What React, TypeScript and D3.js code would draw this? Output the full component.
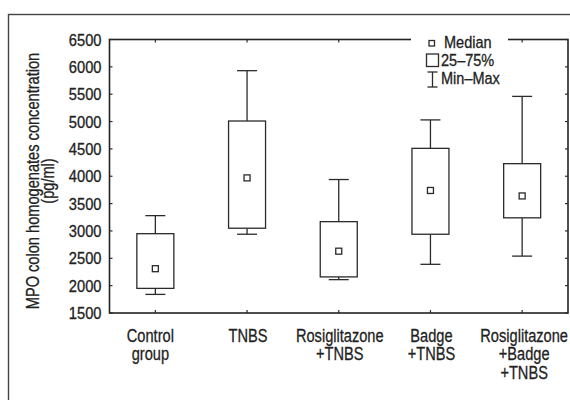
import React from "react";
import * as d3 from "d3";

const categories = [
  ["Control", "group"],
  ["TNBS"],
  ["Rosiglitazone", "+TNBS"],
  ["Badge", "+TNBS"],
  ["Rosiglitazone", "+Badge", "+TNBS"],
];
const minVals = [1840, 2940, 2110, 2390, 2540];
const q1Vals = [1950, 3050, 2160, 2940, 3240];
const medianVals = [2310, 3970, 2630, 3740, 3640];
const q3Vals = [2950, 5010, 3170, 4510, 4230];
const maxVals = [3280, 5930, 3940, 5030, 5460];
const yTicks = [1500, 2000, 2500, 3000, 3500, 4000, 4500, 5000, 5500, 6000, 6500];

const FONT = "'Liberation Sans', Arial, sans-serif";

function T({ x, y, size, k, anchor = "start", rotate = 0, children }: any) {
  return (
    <text
      transform={`translate(${x},${y}) rotate(${rotate}) scale(${k},1)`}
      fontSize={size}
      textAnchor={anchor}
      fill="#222"
      stroke="#222"
      strokeWidth={0.3}
      fontFamily={FONT}
    >
      {children}
    </text>
  );
}

export default function App() {
  const W = 570, H = 400;
  const left = 109.5, right = 568, top = 39.5, bottom = 313;
  const x = d3.scaleBand<number>().domain(d3.range(categories.length)).range([left, right]);
  const y = d3.scaleLinear().domain([1500, 6500]).range([bottom, top]);
  const boxW = 37, capW = 20, tk = 3;
  const stroke = "#2b2b2b";

  return (
    <svg width={W} height={H} style={{ position: "absolute", left: 0, top: 0, background: "#fff" }}>
      <rect x={0} y={0} width={W} height={H} fill="#fff" />
      {/* outer frame */}
      <rect x={8.5} y={14.5} width={600} height={450} fill="none" stroke="#444" strokeWidth={1.4} />
      {/* plot border */}
      <rect x={left} y={top} width={right - left} height={bottom - top} fill="none" stroke="#222" strokeWidth={1.6} />
      {/* y ticks both sides */}
      {yTicks.map((t) => (
        <g key={t}>
          <line x1={left} x2={left + tk} y1={y(t)} y2={y(t)} stroke={stroke} strokeWidth={1.2} />
          <line x1={right} x2={right - tk} y1={y(t)} y2={y(t)} stroke={stroke} strokeWidth={1.2} />
          <T x={101.5} y={y(t) + 6} size={16.5} k={0.89} anchor="end">{t}</T>
        </g>
      ))}
      {/* x ticks top and bottom */}
      {categories.map((_, i) => {
        const cx = x(i)! + x.bandwidth() / 2;
        return (
          <g key={i}>
            <line x1={cx} x2={cx} y1={top} y2={top + tk} stroke={stroke} strokeWidth={1.2} />
            <line x1={cx} x2={cx} y1={bottom} y2={bottom - tk} stroke={stroke} strokeWidth={1.2} />
          </g>
        );
      })}
      {/* boxes */}
      {categories.map((_, i) => {
        const cx = x(i)! + x.bandwidth() / 2;
        return (
          <g key={"b" + i} stroke={stroke} strokeWidth={1.3} fill="none">
            <line x1={cx} x2={cx} y1={y(maxVals[i])} y2={y(q3Vals[i])} />
            <line x1={cx} x2={cx} y1={y(q1Vals[i])} y2={y(minVals[i])} />
            <line x1={cx - capW / 2} x2={cx + capW / 2} y1={y(maxVals[i])} y2={y(maxVals[i])} />
            <line x1={cx - capW / 2} x2={cx + capW / 2} y1={y(minVals[i])} y2={y(minVals[i])} />
            <rect x={cx - boxW / 2} y={y(q3Vals[i])} width={boxW} height={y(q1Vals[i]) - y(q3Vals[i])} fill="#fff" />
            <rect x={cx - 3} y={y(medianVals[i]) - 3} width={6} height={6} fill="#fff" />
          </g>
        );
      })}
      {/* category labels */}
      {categories.map((lines, i) => {
        const cx = x(i)! + x.bandwidth() / 2 + (i === 0 ? -5 : i === 4 ? 2 : 1);
        return (
          <g key={"c" + i}>
            {lines.map((l, j) => (
              <T key={j} x={cx} y={341.5 + j * 18.8} size={18.5} k={0.79} anchor="middle">{l}</T>
            ))}
          </g>
        );
      })}
      {/* y axis title */}
      <T x={38.5} y={181} size={18.5} k={0.79} anchor="middle" rotate={-90}>
        MPO colon homogenates concentration
      </T>
      <T x={53.5} y={181} size={18.5} k={0.79} anchor="middle" rotate={-90}>
        (pg/ml)
      </T>
      {/* legend */}
      <rect x={411} y={33} width={97} height={14} fill="#fff" />
      <g stroke={stroke} strokeWidth={1.3} fill="none">
        <rect x={429} y={40.5} width={5.5} height={5.5} />
        <rect x={426.5} y={54} width={12} height={12.5} />
        <line x1={432.5} x2={432.5} y1={72} y2={87} />
        <line x1={427.5} x2={437.5} y1={72} y2={72} />
        <line x1={427.5} x2={437.5} y1={87} y2={87} />
      </g>
      <T x={444} y={48} size={16.5} k={0.88}>Median</T>
      <T x={441} y={66} size={16.5} k={0.88}>25–75%</T>
      <T x={441} y={84} size={16.5} k={0.88}>Min–Max</T>
    </svg>
  );
}
